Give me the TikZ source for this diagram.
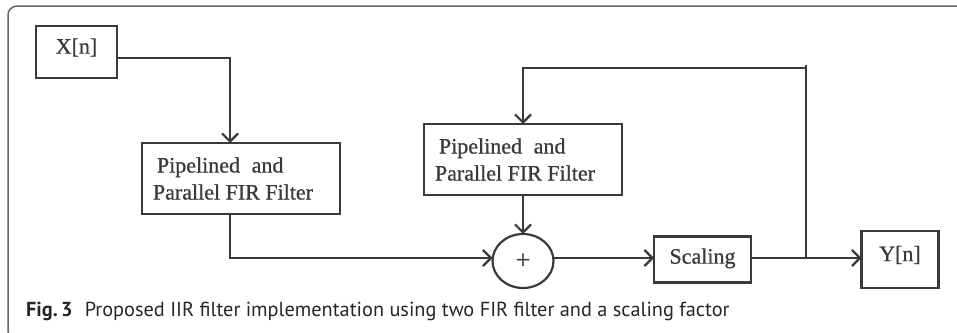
\documentclass[tikz,border=0pt]{standalone}
\usepackage{fontspec}
\setmainfont{Liberation Serif}
\newfontfamily\blockfont{Liberation Serif}[UprightFeatures={FakeBold=0.8}]
\newfontfamily\captionfont{PT Sans}
\usepackage{tikz}
\usetikzlibrary{arrows.meta,shapes.geometric,positioning}

\definecolor{linegray}{HTML}{3A3A3A}
\definecolor{framegray}{HTML}{666666}

\begin{document}
\begin{tikzpicture}[
	x=1pt, y=-1pt,
	line width=2.2pt,
	font=\blockfont\fontsize{22}{27}\selectfont,
	MyArrow/.style={draw=linegray, line width=2.2pt, -{Straight Barb[length=8pt, width=16pt, line width=2.2pt]}},
	BlockStyle/.style={draw=linegray, line width=2.2pt, outer sep=0pt, inner sep=0pt, text=linegray},
	SumStyle/.style={ellipse, draw=linegray, line width=2.2pt, outer sep=0pt, inner sep=0pt,
		minimum width=61pt, minimum height=54pt, text=linegray},
	]
	\useasboundingbox (0,0) rectangle (957,332);
	% figure frame
	\draw[framegray, line width=1.5pt, rounded corners=9pt]
	(960,6) -- (8,6) -- (8,340) -- (40,340);

	% blocks
	\node [BlockStyle, minimum width=81pt, minimum height=52pt, text depth=12pt] (xin) at (76.5,52) {X[n]};
	\node [BlockStyle, minimum width=198pt, minimum height=71pt, align=left] (fir1) at (241,178.5)
	{\hspace*{4pt}Pipelined \;and\\Parallel FIR Filter\hspace*{16pt}};
	\node [BlockStyle, minimum width=198pt, minimum height=71pt, align=left] (fir2) at (523,159.5)
	{\hspace*{4pt}Pipelined \;and\\Parallel FIR Filter\hspace*{16pt}};
	\node [SumStyle] (sum) at (523,261) {\fontsize{26}{26}\selectfont\raisebox{-2pt}{+}};
	\node [BlockStyle, minimum width=97pt, minimum height=46pt, text depth=7pt] (scal) at (702.5,259.5) {Scaling};
	\node [BlockStyle, minimum width=77pt, minimum height=57pt, text depth=12pt] (yout) at (900,259.5) {Y[n]};

	% branch point of the feedback loop
	\coordinate (tap) at (806,258);
	\coordinate (top) at (806,68);

	% connectors
	\draw[MyArrow] ([yshift=-6pt]xin.east) -| ([xshift=-11pt]fir1.north);
	\draw[MyArrow] ([xshift=-11pt]fir1.south) |- ([yshift=3pt]sum.west);
	\draw[MyArrow] (fir2.south) -- (sum.north);
	\draw[MyArrow] ([yshift=3pt]sum.east) -- ([yshift=1.5pt]scal.west);
	\draw[MyArrow] ([yshift=1.5pt]scal.east) -- ([yshift=1.5pt]yout.west);
	\draw[linegray] (tap) -- ([yshift=3pt]top);
	\draw[MyArrow] (top) -| (fir2.north);

	% caption
	\node [anchor=west, inner sep=0pt, text=black!85, font=\captionfont\fontsize{20.3}{24}\selectfont] (cap) at (25,311)
	{\textbf{Fig.\,3}\hspace{0.6em}Proposed IIR filter implementation using two FIR filter and a scaling factor};
\end{tikzpicture}
\end{document}
